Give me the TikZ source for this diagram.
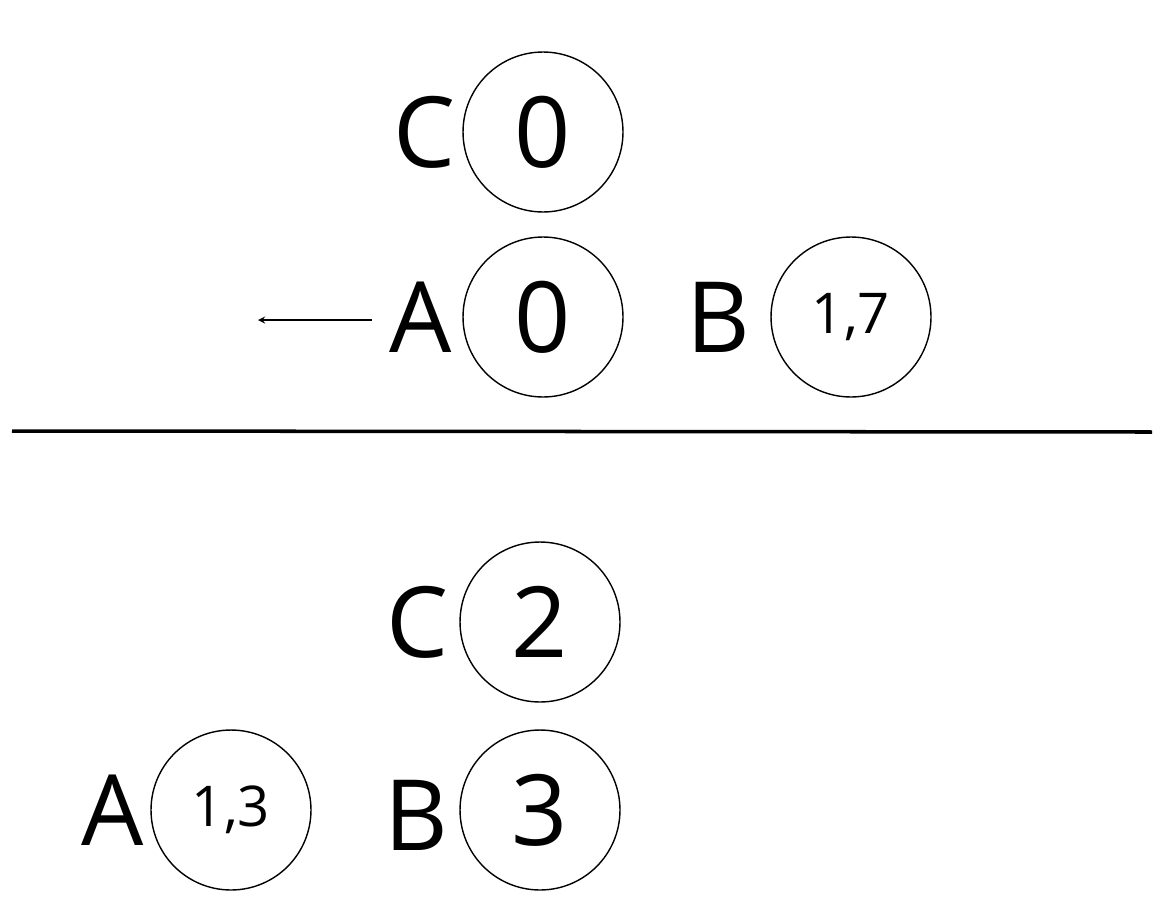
\documentclass[tikz,border=0pt]{standalone}
\usepackage{fontspec}
\setmainfont{Open Sans}
\begin{document}
\begin{tikzpicture}[x=0.02cm,y=-0.02cm,
    cell/.style={circle,draw,line width=0.8pt,minimum size=3.2cm,inner sep=0pt,font=\fontsize{56}{60}\selectfont},
    small/.style={cell,font=\fontsize{32}{36}\selectfont},
    tag/.style={font=\fontsize{56}{60}\selectfont}]
    \useasboundingbox (0,0) rectangle (1165,906);

    % above the line
    \node[cell]  (c0) at (543,132) {0};
    \node[cell]  (a0) at (543,317) {0};
    \node[small] (b0) at (851,317) {1,7};
    \node[tag]   (lc0) at (425,132) {C};
    \node[tag]   (la0) at (421,317) {A};
    \node[tag]   (lb0) at (718,317) {B};
    \coordinate (go) at (258,320);
    \draw[-stealth,line width=0.8pt] (372,320) -- (go);

    % separator
    \draw[line width=2pt] (12,431) -- (1152,432);

    % below the line
    \node[cell]  (c1) at (540,622) {2};
    \node[cell]  (b1) at (540,810) {3};
    \node[small] (a1) at (231,810) {1,3};
    \node[tag]   (lc1) at (418,622) {C};
    \node[tag]   (lb1) at (416,815) {B};
    \node[tag]   (la1) at (113,810) {A};
\end{tikzpicture}
\end{document}
